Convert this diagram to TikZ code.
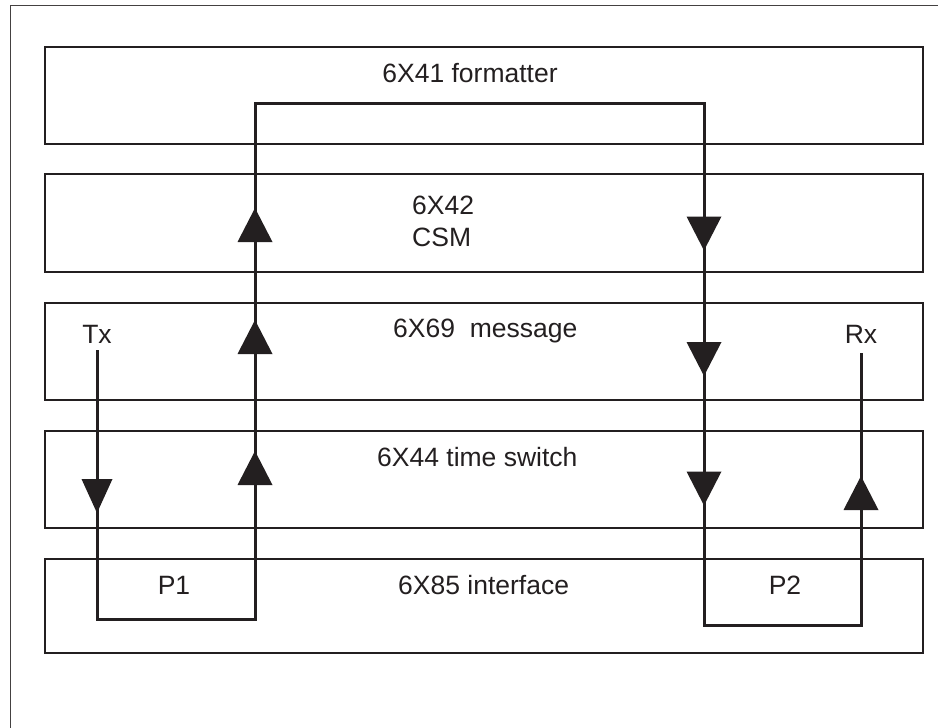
\documentclass[tikz,border=0pt]{standalone}
\usepackage{fontspec}
\setmainfont{Liberation Sans}
\definecolor{ink}{HTML}{231F20}
\begin{document}
\begin{tikzpicture}[x=1pt,y=-1pt,
  frame/.style={draw=ink!85,line width=1pt},
  card/.style={draw=ink,line width=2.2pt,minimum width=878pt,inner sep=0pt,line join=miter},
  lbl/.style={text=ink,font=\fontsize{26.5}{32}\selectfont,inner sep=0pt},
  flow/.style={draw=ink,line width=3pt,line join=miter},
  pics/uptri/.style={code={\fill[ink] (-17.5,17) -- (17.5,17) -- (0,-17) -- cycle;}},
  pics/dntri/.style={code={\fill[ink] (-17.5,-17) -- (17.5,-17) -- (0,17) -- cycle;}},
  pics/dntrismall/.style={code={\fill[ink] (-15.5,-17) -- (15.5,-17) -- (0,17) -- cycle;}}]
\useasboundingbox (0,0) rectangle (938,728);
\fill[white] (0,0) rectangle (938,728);
% outer frame
\draw[frame] (10,728) -- (10,5) -- (938,5);
% boards
\node[card,minimum height=97pt] (fmt) at (484,95.5) {};
\node[card,minimum height=98pt] (csm) at (484,223) {};
\node[card,minimum height=97pt] (msg) at (484,351.5) {};
\node[card,minimum height=97pt] (tsw) at (484,479.5) {};
\node[card,minimum height=94pt] (ifc) at (484,606) {};
% labels
\node[lbl,anchor=base] (tfmt) at (470,82) {6X41 formatter};
\node[lbl,anchor=west,align=left] (tcsm) at (412,221) {6X42\\CSM};
\node[lbl,anchor=base west] (tmsg) at (393,337) {6X69\ \ message};
\node[lbl,anchor=base west] (ttsw) at (377,466) {6X44 time switch};
\node[lbl,anchor=base west] (tifc) at (398,594) {6X85 interface};
\node[lbl,anchor=base] (Tx) at (97,343) {Tx};
\node[lbl,anchor=base] (Rx) at (861,343) {Rx};
\node[lbl,anchor=base] (P1) at (174,594) {P1};
\node[lbl,anchor=base] (P2) at (785,594) {P2};
% path corners
\coordinate (txs) at (97,350);
\coordinate (c1) at (97,619);
\coordinate (c2) at (255,619);
\coordinate (c3) at (255,103);
\coordinate (c4) at (704,103);
\coordinate (c5) at (704,625);
\coordinate (c6) at (861,625);
\coordinate (rxs) at (861,353);
\draw[flow] (txs) -- (c1) -- (c2) -- (c3) -- (c4) -- (c5) -- (c6) -- (rxs);
% arrowheads
\pic at (97,496) {dntrismall};
\pic at (255,468) {uptri};
\pic at (255,337) {uptri};
\pic at (255,225) {uptri};
\pic at (704,233.5) {dntri};
\pic at (704,359) {dntri};
\pic at (704,488.5) {dntri};
\pic at (861,493) {uptri};
\end{tikzpicture}
\end{document}
